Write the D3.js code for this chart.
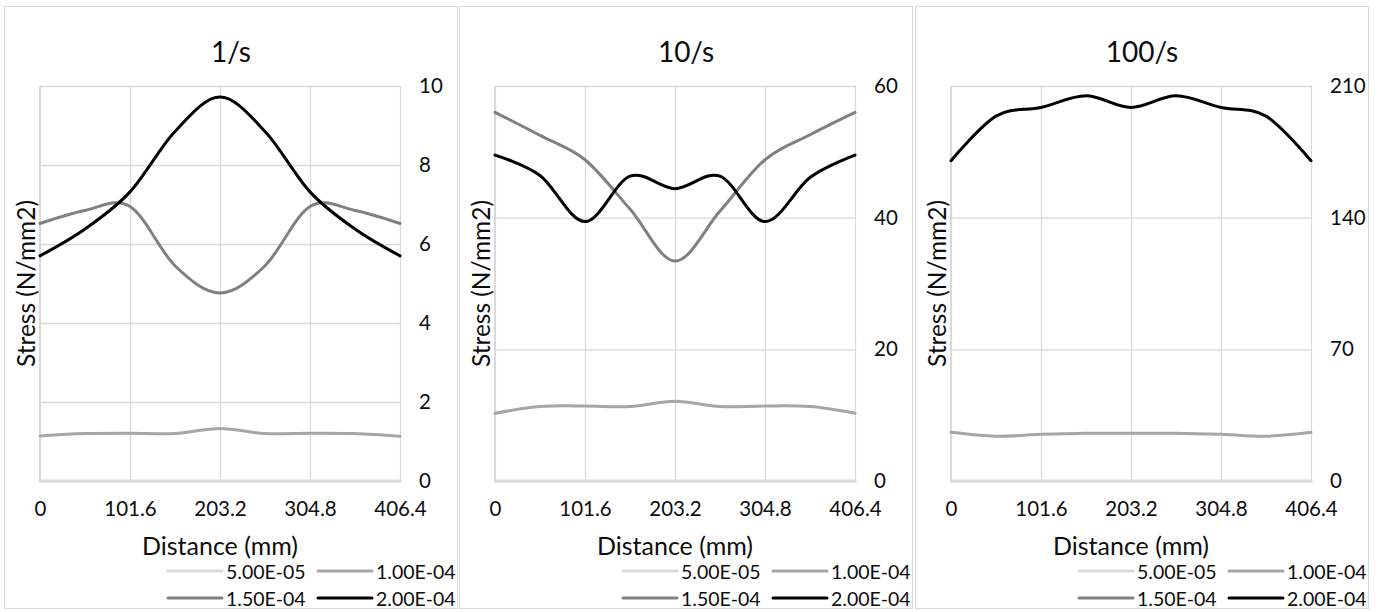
<!DOCTYPE html>
<html>
<head>
<meta charset="utf-8">
<script src="https://cdn.jsdelivr.net/npm/d3@7"></script>
<style>
  html, body { margin: 0; padding: 0; background: #fff; }
  svg { display: block; font-family: Lato, "Open Sans", sans-serif; }
</style>
</head>
<body>
<svg id="chart" width="1380" height="612"></svg>
<script>
// Measurement stations along the specimen (mm)
const distances = [0, 50.8, 101.6, 152.4, 203.2, 254, 304.8, 355.6, 406.4];
const xTicks = [0, 101.6, 203.2, 304.8, 406.4];

// Series (strain) labels and colours
const seriesNames = ["5.00E-05", "1.00E-04", "1.50E-04", "2.00E-04"];
const seriesColors = ["#d9d9d9", "#a6a6a6", "#808080", "#000000"];

// Strain rate 1/s
const rate1_5e5 = [0, 0, 0, 0, 0, 0, 0, 0, 0];
const rate1_1e4 = [1.14, 1.20, 1.21, 1.20, 1.33, 1.20, 1.21, 1.20, 1.13];
const rate1_15e4 = [6.52, 6.85, 6.95, 5.45, 4.76, 5.45, 6.95, 6.85, 6.52];
const rate1_2e4 = [5.70, 6.38, 7.32, 8.85, 9.72, 8.85, 7.32, 6.38, 5.70];
const rate1_yTicks = [0, 2, 4, 6, 8, 10];

// Strain rate 10/s
const rate10_5e5 = [0, 0, 0, 0, 0, 0, 0, 0, 0];
const rate10_1e4 = [10.3, 11.3, 11.4, 11.3, 12.1, 11.3, 11.4, 11.3, 10.3];
const rate10_15e4 = [56.0, 52.5, 48.8, 41.3, 33.4, 41.0, 48.8, 52.6, 56.0];
const rate10_2e4 = [49.5, 46.4, 39.4, 46.3, 44.4, 46.3, 39.4, 46.1, 49.5];
const rate10_yTicks = [0, 20, 40, 60];

// Strain rate 100/s (no separate 1.50E-04 trace)
const rate100_5e5 = [0, 0, 0, 0, 0, 0, 0, 0, 0];
const rate100_1e4 = [25.9, 23.8, 24.8, 25.4, 25.4, 25.4, 24.8, 23.8, 25.9];
const rate100_15e4 = [];
const rate100_2e4 = [170.3, 194.0, 198.6, 204.8, 198.6, 204.8, 198.6, 194.0, 170.3];
const rate100_yTicks = [0, 70, 140, 210];

const panels = [
  { title: "1/s", series: [rate1_5e5, rate1_1e4, rate1_15e4, rate1_2e4], yTicks: rate1_yTicks },
  { title: "10/s", series: [rate10_5e5, rate10_1e4, rate10_15e4, rate10_2e4], yTicks: rate10_yTicks },
  { title: "100/s", series: [rate100_5e5, rate100_1e4, rate100_15e4, rate100_2e4], yTicks: rate100_yTicks }
];

const svg = d3.select("#chart");
const panelOffsets = [0, 455, 911];
const plot = { left: 40, top: 86, width: 360, height: 395 };
const gridColor = "#d9d9d9";
const textColor = "#0d0d0d";

panels.forEach((p, i) => {
  const g = svg.append("g").attr("transform", `translate(${panelOffsets[i]},0)`);

  // chart frame
  g.append("rect")
    .attr("x", 4.5).attr("y", 6.5).attr("width", 453).attr("height", 602)
    .attr("fill", "#fff").attr("stroke", gridColor).attr("stroke-width", 1);

  const x = d3.scaleLinear().domain([0, 406.4]).range([plot.left, plot.left + plot.width]);
  const yMax = p.yTicks[p.yTicks.length - 1];
  const y = d3.scaleLinear().domain([0, yMax]).range([plot.top + plot.height, plot.top]);

  // horizontal gridlines
  g.append("g")
    .attr("transform", `translate(${plot.left},0)`)
    .call(d3.axisLeft(y).tickValues(p.yTicks).tickSize(-plot.width).tickFormat(""))
    .call(s => s.select(".domain").remove())
    .call(s => s.selectAll("line").attr("stroke", gridColor).attr("stroke-width", 1.3));

  // vertical gridlines
  g.append("g")
    .attr("transform", `translate(0,${plot.top + plot.height})`)
    .call(d3.axisBottom(x).tickValues(xTicks).tickSize(-plot.height).tickFormat(""))
    .call(s => s.select(".domain").remove())
    .call(s => s.selectAll("line").attr("stroke", gridColor).attr("stroke-width", 1.3));

  // left edge line
  g.append("line")
    .attr("x1", x(0)).attr("x2", x(0))
    .attr("y1", plot.top).attr("y2", plot.top + plot.height)
    .attr("stroke", gridColor).attr("stroke-width", 2);

  // value axis on the right
  g.append("g")
    .attr("transform", `translate(${plot.left + plot.width},0)`)
    .call(d3.axisRight(y).tickValues(p.yTicks).tickSize(0).tickPadding(19).tickFormat(d3.format("d")))
    .call(s => s.select(".domain").remove())
    .call(s => s.selectAll("text")
      .attr("fill", textColor).style("font-size", "20.5px").style("font-family", "Lato"));

  // distance axis
  g.append("g")
    .attr("transform", `translate(0,${plot.top + plot.height})`)
    .call(d3.axisBottom(x).tickValues(xTicks).tickSize(0).tickPadding(20)
      .tickFormat(d => d === 0 ? "0" : d3.format(".1f")(d)))
    .call(s => s.select(".domain").remove())
    .call(s => s.selectAll("text")
      .attr("fill", textColor).style("font-size", "20.5px").style("font-family", "Lato"));

  // smoothed series
  const line = d3.line()
    .x((d, j) => x(distances[j]))
    .y(d => y(d))
    .curve(d3.curveCatmullRom.alpha(0));

  p.series.forEach((vals, k) => {
    if (!vals.length) return;
    g.append("path")
      .datum(vals)
      .attr("d", line)
      .attr("fill", "none")
      .attr("stroke", seriesColors[k])
      .attr("stroke-width", 3)
      .attr("stroke-linejoin", "round")
      .attr("stroke-linecap", "round");
  });

  // title
  g.append("text")
    .attr("x", 231).attr("y", 51)
    .attr("text-anchor", "middle").attr("dominant-baseline", "central")
    .attr("fill", textColor).style("font-size", "28px")
    .text(p.title);

  // axis titles
  g.append("text")
    .attr("x", plot.left + plot.width / 2).attr("y", 545)
    .attr("text-anchor", "middle").attr("dominant-baseline", "central")
    .attr("fill", textColor).style("font-size", "25px")
    .text("Distance (mm)");

  g.append("text")
    .attr("transform", `translate(${plot.left - 15},${plot.top + plot.height / 2}) rotate(-90)`)
    .attr("text-anchor", "middle").attr("dominant-baseline", "central")
    .attr("fill", textColor).style("font-size", "24.5px")
    .text("Stress (N/mm2)");

  // legend
  const legendRows = [571, 598];
  const legendCols = [168, 318];
  seriesNames.forEach((name, k) => {
    const lx = legendCols[k % 2];
    const ly = legendRows[Math.floor(k / 2)];
    g.append("line")
      .attr("x1", lx).attr("x2", lx + 54)
      .attr("y1", ly).attr("y2", ly)
      .attr("stroke", seriesColors[k]).attr("stroke-width", 3).attr("stroke-linecap", "round");
    g.append("text")
      .attr("x", lx + 58).attr("y", ly)
      .attr("dominant-baseline", "central")
      .attr("fill", textColor).style("font-size", "19.5px")
      .text(name);
  });
});
</script>
</body>
</html>
